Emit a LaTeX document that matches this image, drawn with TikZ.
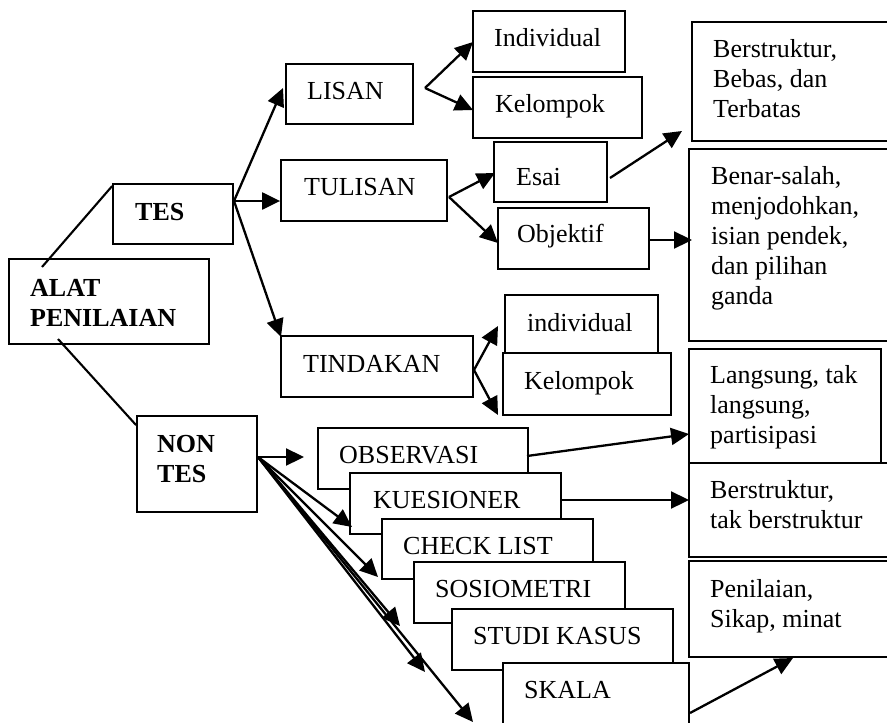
\documentclass[tikz,border=0pt]{standalone}
\usepackage{fontspec}
\setmainfont{Liberation Serif}
\usetikzlibrary{arrows.meta,fit}
\newcommand\mlines[1]{\begin{tabular}[t]{@{}l@{}}#1\end{tabular}}
\begin{document}
\begin{tikzpicture}[x=1pt,y=-1pt,
  box/.style={draw,line width=1.8pt,fill=white,inner sep=0pt,rectangle},
  txt/.style={inner sep=0pt,anchor=base west,font=\fontsize{26}{30}\selectfont},
  btxt/.style={inner sep=0pt,anchor=base west,font=\fontsize{26}{30}\selectfont\bfseries},
  ln/.style={line width=2.1pt},
  arr/.style={line width=2.3pt,-{Triangle[length=18pt,width=17pt]}}]
\useasboundingbox (0,0) rectangle (887,723);
\clip (0,0) rectangle (887,723);
\fill[white] (0,0) rectangle (887,723);

% left column
\node[box,fit={(9,259) (209,344)}] (alat) {};
\node[btxt] (talat) at (30,296) {\mlines{ALAT\\PENILAIAN}};
\node[box,fit={(113,184) (233,244)}] (tes) {};
\node[btxt] (ttes) at (135,220) {TES};
\node[box,fit={(137,416) (257,512)}] (nontes) {};
\node[btxt] (tnontes) at (157,452) {\mlines{NON\\TES}};

% second column
\node[box,fit={(286,64) (413,124)}] (lisan) {};
\node[txt] (tlisan) at (307,99) {LISAN};
\node[box,fit={(281,160) (447,221)}] (tulisan) {};
\node[txt] (ttulisan) at (304,195) {TULISAN};
\node[box,fit={(281,336) (473,397)}] (tindakan) {};
\node[txt] (ttindakan) at (303,372) {TINDAKAN};

% third column (tes)
\node[box,fit={(473,11) (625,72)}] (indiv) {};
\node[txt] (tindiv) at (494,46) {Individual};
\node[box,fit={(473,77) (642,138)}] (kelA) {};
\node[txt] (tkelA) at (495,112) {Kelompok};
\node[box,fit={(494,142) (607,202)}] (esai) {};
\node[txt] (tesai) at (516,185) {Esai};
\node[box,fit={(498,208) (649,269)}] (objektif) {};
\node[txt] (tobjektif) at (517,242) {Objektif};
\node[box,fit={(505,295) (658,353)}] (indivB) {};
\node[txt] (tindivB) at (527,331) {individual};
\node[box,fit={(503,353) (671,415)}] (kelB) {};
\node[txt] (tkelB) at (524,389) {Kelompok};

% right column
\node[box,fit={(692,22) (900,141)}] (bersA) {};
\node[txt] (tbersA) at (713,57) {\mlines{Berstruktur,\\Bebas, dan\\Terbatas}};
\node[box,fit={(689,149) (900,341)}] (benar) {};
\node[txt] (tbenar) at (711,184) {\mlines{Benar-salah,\\menjodohkan,\\isian pendek,\\dan pilihan\\ganda}};
\node[box,fit={(689,349) (881,463)}] (langsung) {};
\node[txt] (tlangsung) at (710,383) {\mlines{Langsung, tak\\langsung,\\partisipasi}};
\node[box,fit={(689,463) (900,557)}] (bersB) {};
\node[txt] (tbersB) at (710,498) {\mlines{Berstruktur,\\tak berstruktur}};
\node[box,fit={(689,561) (900,657)}] (penilaian) {};
\node[txt] (tpenilaian) at (710,597) {\mlines{Penilaian,\\Sikap, minat}};

% non tes stack
\node[box,fit={(318,428) (528,489)}] (obs) {};
\node[txt] (tobs) at (339,463) {OBSERVASI};
\node[box,fit={(350,473) (561,534)}] (kues) {};
\node[txt] (tkues) at (373,508) {KUESIONER};
\node[box,fit={(382,519) (593,579)}] (check) {};
\node[txt] (tcheck) at (403,554) {CHECK LIST};
\node[box,fit={(414,562) (625,623)}] (sosio) {};
\node[txt] (tsosio) at (435,597) {SOSIOMETRI};
\node[box,fit={(452,609) (673,670)}] (studi) {};
\node[txt] (tstudi) at (473,644) {STUDI KASUS};
\node[box,fit={(503,663) (689,745)}] (skala) {};
\node[txt] (tskala) at (524,698) {SKALA};

% coordinates for connector ends
\coordinate (alatA) at (42,267);
\coordinate (alatB) at (58,339);
\coordinate (tesout) at (234,201);
\coordinate (lisanin) at (283,88);
\coordinate (tindin) at (281,337);
\coordinate (lisout) at (425,88);
\coordinate (indivin) at (473,42);
\coordinate (kelAin) at (473,110);
\coordinate (tulout) at (449,197);
\coordinate (esaiin) at (495,173);
\coordinate (objin) at (498,243);
\coordinate (esaiout) at (610,178);
\coordinate (bersAin) at (682,131);
\coordinate (objout) at (648,240);
\coordinate (benarin) at (692,240);
\coordinate (tindout) at (474,370);
\coordinate (indivBin) at (498,326);
\coordinate (kelBin) at (498,415);
\coordinate (obsout) at (527,456);
\coordinate (langin) at (689,434);
\coordinate (kuesout) at (560,500);
\coordinate (bersBin) at (689,500);
\coordinate (skalaout) at (690,713);
\coordinate (penin) at (793,658);
\coordinate (ntout) at (258,457);
\coordinate (obsin) at (304,457);
\coordinate (kuesin) at (352,527);
\coordinate (checkin) at (378,577);
\coordinate (sosioin) at (400,626);
\coordinate (studiin) at (425,672);
\coordinate (skalain) at (473,722);

% connectors
\draw[ln] (alatA) -- ([yshift=-3pt]tes.north west);
\draw[ln] (alatB) -- ([yshift=-10pt]nontes.north west);
\draw[arr] (tesout) -- (lisanin);
\draw[arr] (tesout) -- (tulisan.west |- tesout);
\draw[arr] (tesout) -- (tindin);
\draw[arr] (lisout) -- (indivin);
\draw[arr] (lisout) -- (kelAin);
\draw[arr] (tulout) -- (esaiin);
\draw[arr] (tulout) -- (objin);
\draw[arr] (esaiout) -- (bersAin);
\draw[arr] (objout) -- (benarin);
\draw[arr] (tindout) -- (indivBin);
\draw[arr] (tindout) -- (kelBin);
\draw[arr] (obsout) -- (langin);
\draw[arr] (kuesout) -- (bersBin);
\draw[arr] (skalaout) -- (penin);
\draw[arr] (ntout) -- (obsin);
\draw[arr] (ntout) -- (kuesin);
\draw[arr] (ntout) -- (checkin);
\draw[arr] (ntout) -- (sosioin);
\draw[arr] (ntout) -- (studiin);
\draw[arr] (ntout) -- (skalain);
\end{tikzpicture}
\end{document}
